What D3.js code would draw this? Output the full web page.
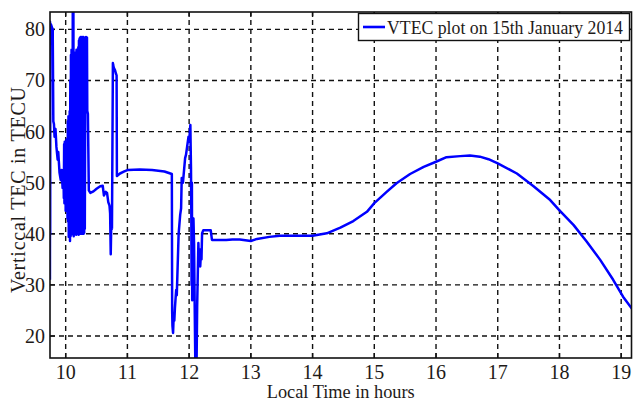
<!DOCTYPE html>
<html>
<head>
<meta charset="utf-8">
<script src="https://cdn.jsdelivr.net/npm/d3@7/dist/d3.min.js"></script>
<style>
  html, body { margin: 0; padding: 0; background: #fff; }
  svg { display: block; }
  text { font-family: "Liberation Serif", "Times New Roman", serif; fill: #1e1a18; }
</style>
</head>
<body>
<svg id="chart" width="633" height="405"></svg>
<script>
// Local time (hours) of each VTEC sample, 15 January 2014
const localTime = [
  9.745, 9.747, 9.749, 9.751, 9.76, 9.775, 9.79, 9.80,
  9.81, 9.82, 9.835, 9.85, 9.87, 9.88, 9.90, 9.92, 9.935, 9.95, 9.96,
  9.965, 9.970, 9.975, 9.980, 9.985, 9.990, 9.995, 10.000, 10.005, 10.010,
  10.015, 10.020, 10.025, 10.030, 10.035, 10.040, 10.045, 10.050, 10.055, 10.060,
  10.065, 10.070, 10.075, 10.080, 10.085, 10.090, 10.095, 10.100, 10.105, 10.110,
  10.115, 10.120, 10.125, 10.130, 10.135, 10.140, 10.145, 10.150, 10.155, 10.160,
  10.165, 10.170, 10.175, 10.180, 10.185, 10.190, 10.195, 10.200, 10.205, 10.210,
  10.215, 10.220, 10.225, 10.230, 10.235, 10.240, 10.245, 10.250, 10.255, 10.260,
  10.265, 10.270, 10.275, 10.280, 10.285, 10.290, 10.295, 10.300, 10.305, 10.310,
  10.32, 10.33, 10.345, 10.35, 10.36, 10.375,
  10.40, 10.45, 10.50, 10.56, 10.60, 10.62, 10.65, 10.67, 10.69, 10.71, 10.72, 10.73,
  10.74, 10.75, 10.765, 10.77, 10.78, 10.80, 10.815, 10.825, 10.83, 10.88, 10.95, 11.01,
  11.2, 11.4, 11.6, 11.72,
  11.725, 11.73, 11.74, 11.75, 11.76, 11.77, 11.79, 11.80, 11.83, 11.855, 11.87, 11.88,
  11.90, 11.935, 11.95, 11.99, 12.00, 12.02, 12.025, 12.03, 12.035, 12.04, 12.045, 12.05,
  12.06, 12.07, 12.08, 12.09, 12.10, 12.12, 12.13, 12.14, 12.15, 12.16, 12.17, 12.18,
  12.19, 12.20, 12.21, 12.23, 12.35, 12.37,
  12.5, 12.6, 12.7, 12.82, 13.0, 13.1, 13.3, 13.47, 13.7, 14.0, 14.23, 14.45, 14.66,
  14.88, 15.0, 15.2, 15.36, 15.58, 15.8, 16.0, 16.17, 16.39, 16.55, 16.71, 16.85, 17.0,
  17.31, 17.58, 17.85, 18.0, 18.23, 18.44, 18.66, 18.87, 19.03, 19.19
];

// Vertical TEC (TECU) at each time above
const vtec = [
  31, 81.5, 40, 81, 81, 80.5, 80, 62,
  61.5, 59, 60.5, 57, 54.5, 56, 52, 50.5, 52.5, 49, 50.8,
  50.8, 47, 57.5, 46, 58, 47.5, 56, 44.5, 57, 46.5,
  58.5, 45, 57, 43, 62, 42.4, 63, 39.4, 62.5, 40,
  64, 38.6, 70, 39.5, 75, 39.8, 76, 40, 75.5, 40.3,
  86, 40, 86, 39.5, 74, 40.2, 75.5, 40, 74.5, 40.5,
  75, 39.8, 76, 40, 75.2, 40.3, 74, 40, 76.5, 39.8,
  77.8, 40.2, 78.2, 40, 78.4, 40.3, 78.5, 40, 78.4, 40.2,
  78.5, 40, 78.4, 40.1, 78.5, 40, 78.4, 40.2, 78.3, 41,
  78.4, 78.5, 78.4, 64, 63.5, 48.5,
  48, 48.3, 48.8, 49.3, 49.4, 47.5, 48.2, 48, 46.2, 45.5, 44, 36,
  43, 41, 73.4, 73, 72.5, 72, 71.3, 71, 51.3, 51.8, 52.2, 52.5,
  52.6, 52.5, 52.2, 51.7,
  25, 22, 20.6, 24, 23, 25.5, 29, 28, 40, 43.7, 45, 50.9,
  50, 54.8, 55.5, 59, 58, 61.3, 57, 53, 45, 30, 50, 27,
  42.7, 43, 38, 26, 15, 14, 25.7, 32, 38.2, 34, 37, 33.6,
  36, 35, 40.1, 40.7, 40.7, 38.8,
  38.8, 38.8, 38.9, 38.9, 38.6, 39.0, 39.4, 39.6, 39.6, 39.6, 40.1, 41.2, 42.5,
  44.3, 46.0, 48.2, 49.9, 51.7, 53.1, 54.1, 55.0, 55.2, 55.3, 55.1, 54.6, 53.8,
  51.8, 49.3, 46.6, 44.6, 41.7, 38.5, 34.9, 31.0, 27.7, 25.1
];

const xTicks = [10, 11, 12, 13, 14, 15, 16, 17, 18, 19];
const yTicks = [20, 30, 40, 50, 60, 70, 80];
const xDomain = [9.746, 19.167];
const yDomain = [15.7, 83.4];
const legendLabel = "VTEC plot on 15th January 2014";
const xLabel = "Local Time in hours";
const yLabel = "Verticcal TEC in TECU";

const svg = d3.select("#chart");
const plot = { left: 50, right: 631.5, top: 12, bottom: 358 };

const x = d3.scaleLinear().domain(xDomain).range([plot.left, plot.right]);
const y = d3.scaleLinear().domain(yDomain).range([plot.bottom, plot.top]);

svg.append("defs").append("clipPath").attr("id", "plotClip")
  .append("rect")
  .attr("x", plot.left).attr("y", plot.top)
  .attr("width", plot.right - plot.left).attr("height", plot.bottom - plot.top);

// dashed grid
const grid = svg.append("g").attr("stroke", "#111").attr("stroke-width", 1.4)
  .attr("stroke-dasharray", "5,4");
grid.selectAll(".gx").data(xTicks).join("line")
  .attr("x1", d => x(d)).attr("x2", d => x(d))
  .attr("y1", plot.bottom).attr("y2", plot.top);
grid.selectAll(".gy").data(yTicks).join("line")
  .attr("y1", d => y(d)).attr("y2", d => y(d))
  .attr("x1", plot.left).attr("x2", plot.right);

// inward tick marks on all four sides
const tickLen = 5;
const ticks = svg.append("g").attr("stroke", "#111").attr("stroke-width", 1.4);
xTicks.forEach(d => {
  ticks.append("line").attr("x1", x(d)).attr("x2", x(d))
    .attr("y1", plot.bottom).attr("y2", plot.bottom - tickLen);
  ticks.append("line").attr("x1", x(d)).attr("x2", x(d))
    .attr("y1", plot.top).attr("y2", plot.top + tickLen);
});
yTicks.forEach(d => {
  ticks.append("line").attr("y1", y(d)).attr("y2", y(d))
    .attr("x1", plot.left).attr("x2", plot.left + tickLen);
  ticks.append("line").attr("y1", y(d)).attr("y2", y(d))
    .attr("x1", plot.right).attr("x2", plot.right - tickLen);
});

// VTEC series
const series = d3.zip(localTime, vtec);
const line = d3.line().x(d => x(d[0])).y(d => y(d[1]));
svg.append("path")
  .datum(series)
  .attr("clip-path", "url(#plotClip)")
  .attr("fill", "none")
  .attr("stroke", "#0000ff")
  .attr("stroke-width", 2.5)
  .attr("stroke-linejoin", "round")
  .attr("d", line);

// axes box
svg.append("rect")
  .attr("x", plot.left).attr("y", plot.top)
  .attr("width", plot.right - plot.left).attr("height", plot.bottom - plot.top)
  .attr("fill", "none").attr("stroke", "#111").attr("stroke-width", 1.6);

// tick labels
svg.append("g").selectAll("text").data(xTicks).join("text")
  .attr("x", d => x(d)).attr("y", 379)
  .attr("text-anchor", "middle").attr("font-size", 20)
  .text(d => d);
svg.append("g").selectAll("text").data(yTicks).join("text")
  .attr("x", 45).attr("y", d => y(d) + 7)
  .attr("text-anchor", "end").attr("font-size", 20)
  .text(d => d);

// axis titles
svg.append("text")
  .attr("x", (plot.left + plot.right) / 2).attr("y", 398)
  .attr("text-anchor", "middle").attr("font-size", 19)
  .attr("textLength", 148).attr("lengthAdjust", "spacingAndGlyphs")
  .text(xLabel);
svg.append("text")
  .attr("transform", "translate(25,190) rotate(-90)")
  .attr("text-anchor", "middle").attr("font-size", 20)
  .attr("textLength", 206).attr("lengthAdjust", "spacing")
  .text(yLabel);

// legend
const legend = svg.append("g");
legend.append("rect")
  .attr("x", 358.5).attr("y", 13.5).attr("width", 271).attr("height", 27)
  .attr("fill", "#fff").attr("stroke", "#111").attr("stroke-width", 1.4);
legend.append("line")
  .attr("x1", 363).attr("x2", 385).attr("y1", 27).attr("y2", 27)
  .attr("stroke", "#0000ff").attr("stroke-width", 2.6);
legend.append("text")
  .attr("x", 387).attr("y", 34).attr("font-size", 18.5)
  .attr("textLength", 236).attr("lengthAdjust", "spacingAndGlyphs")
  .text(legendLabel);
</script>
</body>
</html>
